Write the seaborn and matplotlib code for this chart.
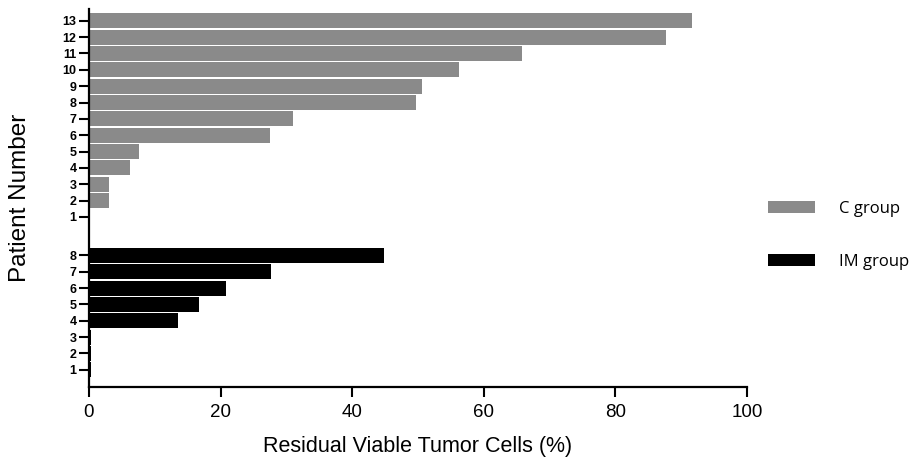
import matplotlib
matplotlib.use("Agg")
import matplotlib.pyplot as plt
from matplotlib.patches import Patch
import pandas as pd
import seaborn as sns

# patient numbers and residual viable tumor cells (%)
c_patients = list(range(1, 14))
c_values = [0, 3.0, 3.0, 6.2, 7.6, 27.5, 31.0, 49.7, 50.6, 56.2, 65.8, 87.7, 91.6]
im_patients = list(range(1, 9))
im_values = [0.3, 0.3, 0.3, 13.5, 16.7, 20.8, 27.7, 44.8]

# C group sits above IM group with a small gap
gap = 1.35
c_pos = [len(im_patients) + gap + p - 1 + 1 for p in c_patients]
im_pos = list(im_patients)

df = pd.DataFrame({
    "group": ["C group"] * len(c_patients) + ["IM group"] * len(im_patients),
    "patient": c_patients + im_patients,
    "value": c_values + im_values,
    "pos": c_pos + im_pos,
})

palette = {"C group": "#8a8a8a", "IM group": "#000000"}

sns.set_style("ticks", {"axes.edgecolor": "black", "text.color": "black",
                        "axes.labelcolor": "black", "xtick.color": "black",
                        "ytick.color": "black"})
plt.rcParams["font.family"] = ["Liberation Sans", "DejaVu Sans"]

fig = plt.figure(figsize=(9.11, 4.62), dpi=100)
ax = fig.add_axes([89 / 911, 1 - 387 / 462, (747 - 89) / 911, (387 - 9) / 462])

sns.barplot(data=df, x="value", y="pos", hue="group", orient="y", native_scale=True,
            palette=palette, width=0.92, dodge=False, legend=False,
            edgecolor="none", linewidth=0, saturation=1, ax=ax)

ax.set_xlim(0, 100)
ax.set_ylim(-0.05, c_pos[-1] + 0.72)
ax.set_xticks([0, 20, 40, 60, 80, 100])
ax.set_yticks(df["pos"])
ax.set_yticklabels(df["patient"], fontsize=9, fontweight="bold")
ax.tick_params(axis="x", labelsize=13.5, length=7, width=1.5, pad=5)
ax.tick_params(axis="y", length=7, width=1.5, pad=2)
for s in ["left", "bottom"]:
    ax.spines[s].set_linewidth(1.6)
sns.despine(ax=ax)

ax.set_xlabel("Residual Viable Tumor Cells (%)", fontsize=15.5)
ax.xaxis.set_label_coords(0.5, -0.13)
ax.set_ylabel("Patient Number", fontsize=17.5)
ax.yaxis.set_label_coords(-0.088, 0.5)

handles = [Patch(facecolor=palette[g], edgecolor="none", label=g) for g in palette]
fig.legend(handles=handles, loc="center left", bbox_to_anchor=(768 / 911, 1 - 235.5 / 462),
           frameon=False, handlelength=2.8, handleheight=0.75,
           handletextpad=1.45, labelspacing=2.2, borderpad=0, borderaxespad=0,
           prop={"family": ["Open Sans", "DejaVu Sans"], "size": 12})

fig.savefig("out.png", dpi=100)
